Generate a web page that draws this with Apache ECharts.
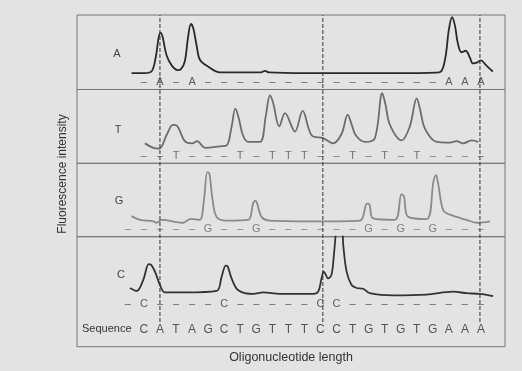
<!DOCTYPE html>
<html>
<head>
<meta charset="utf-8">
<script src="https://cdn.jsdelivr.net/npm/echarts@6/dist/echarts.min.js"></script>
<style>
  html, body { margin: 0; padding: 0; background: #e3e3e3; }
  #chart { width: 522px; height: 371px; }
</style>
</head>
<body>
<div id="chart"></div>
<script>
// read sequence (bottom row), one base per position 0..21
const sequence = ['C','A','T','A','G','C','T','G','T','T','T','C','C','T','G','T','G','T','G','A','A','A'];
const bases = ['A', 'T', 'G', 'C'];
// first dash of each label row (G and C rows start one slot earlier)
const rowStart = [0, 0, -1, -1];
// dashed reference lines, in base positions
const markerPositions = [1.0, 11.15, 20.94];

// fluorescence traces: [base position, intensity 0-100 of panel height]
const traceA = [
  [-0.77, 22], [0.06, 22], [0.5, 25], [0.75, 45], [0.92, 70], [1.04, 76], [1.16, 71],
  [1.41, 46], [1.74, 32], [2.1, 26], [2.3, 27], [2.55, 38], [2.75, 70], [2.93, 88],
  [3.08, 82], [3.30, 57], [3.49, 40], [3.99, 31], [4.74, 23], [5.98, 23], [7.3, 23],
  [7.54, 25], [7.8, 23], [10.0, 22], [13.0, 22], [16.0, 22], [18.4, 23], [18.75, 39],
  [19.0, 80], [19.2, 97], [19.38, 86], [19.56, 62], [19.79, 50], [20.05, 52],
  [20.31, 43], [20.5, 35], [20.75, 36], [21.0, 39], [21.3, 33], [21.74, 24]
];
const traceT = [
  [0.06, 27], [0.58, 21], [0.95, 20], [1.45, 40], [1.8, 52], [2.05, 51], [2.55, 30],
  [3.0, 27], [3.32, 30], [3.80, 21], [4.74, 23], [5.15, 24], [5.45, 48], [5.7, 74],
  [5.9, 62], [6.17, 38], [6.50, 29], [7.23, 29], [7.6, 65], [7.85, 92], [8.05, 82],
  [8.43, 50], [8.79, 68], [9.41, 43], [9.89, 71], [10.45, 38], [11.17, 34], [11.79, 27],
  [12.32, 40], [12.7, 66], [12.95, 52], [13.2, 38], [13.77, 29], [14.39, 34],
  [14.85, 95], [15.05, 80], [15.33, 52], [16.06, 31], [16.57, 50], [17.0, 88],
  [17.2, 74], [17.51, 47], [18.24, 29], [19.07, 28], [19.48, 30], [19.89, 27],
  [20.42, 31], [20.83, 29]
];
const traceG = [
  [-0.77, 28], [-0.25, 23], [0.58, 21], [0.79, 19], [1.10, 23], [2.45, 19], [2.87, 24],
  [3.07, 24], [3.49, 23], [3.74, 50], [3.95, 88], [4.08, 86], [4.28, 50], [4.53, 27],
  [5.15, 22], [6.50, 23], [6.8, 45], [6.95, 49], [7.33, 27], [7.85, 22], [10.97, 21],
  [13.46, 22], [13.9, 45], [14.05, 44], [14.29, 25], [15.64, 23], [16.05, 58],
  [16.2, 55], [16.47, 27], [17.61, 24], [18.05, 76], [18.2, 84], [18.35, 70],
  [18.65, 36], [19.07, 30], [20.11, 23], [20.73, 19], [21.56, 21]
];
const traceC = [
  [-0.87, 31], [-0.45, 27], [-0.04, 42], [0.3, 63], [0.45, 62], [0.69, 53], [1.0, 35],
  [1.31, 25], [2.66, 25], [4.53, 27], [4.84, 46], [5.1, 61], [5.22, 60], [5.46, 44],
  [5.88, 28], [6.81, 23], [7.43, 25], [8.47, 23], [10.55, 23], [10.86, 26], [11.07, 44],
  [11.21, 53], [11.48, 44], [11.69, 49], [11.84, 76], [11.96, 105], [12.15, 140],
  [12.38, 105], [12.42, 89], [12.63, 53], [12.94, 35], [13.25, 31], [13.66, 30],
  [14.08, 24], [15.53, 21], [17.61, 22], [19.27, 26], [20.11, 24], [20.93, 23], [21.76, 20]
];
const traces = [traceA, traceT, traceG, traceC];
const traceColors = ['#2a2a2a', '#6c6c6c', '#8a8a8a', '#333333'];
const labelColors = ['#3a3a3a', '#555555', '#666666', '#3a3a3a'];

const chart = echarts.init(document.getElementById('chart'));
const font = 'Liberation Sans, Arial, sans-serif';

const X_MIN = -4.17, X_MAX = 22.5;
const panelTops = [15, 89.5, 163.3, 236.7];
const panelHeights = [74.5, 73.8, 73.4, 110];

const grid = panelTops.map((top, i) => ({
  left: 77, width: 428, top: top, height: panelHeights[i],
  show: true, borderColor: '#777', borderWidth: 1, backgroundColor: 'transparent'
}));
grid.push({ left: 77, width: 428, top: 15, height: 307, show: false });

const xAxis = grid.map((g, i) => ({
  type: 'value', gridIndex: i, min: X_MIN, max: X_MAX, show: false
}));
const yAxis = grid.map((g, i) => ({
  type: 'value', gridIndex: i, show: false,
  min: i === 3 ? -48 : 0, max: i === 4 ? 1 : 100
}));

const series = [];
traces.forEach((data, i) => {
  series.push({
    type: 'line', xAxisIndex: i, yAxisIndex: i, data: data,
    smooth: 0.35, showSymbol: false, silent: true,
    lineStyle: { color: traceColors[i], width: 1.8 }
  });
  // row of dashes with the base letter where the sequence matches
  const rowData = [];
  for (let p = rowStart[i]; p < sequence.length; p++) {
    const hit = sequence[p] === bases[i];
    rowData.push({ value: [p, 10], name: hit ? bases[i] : '\u2013' });
  }
  series.push({
    type: 'scatter', xAxisIndex: i, yAxisIndex: i, data: rowData,
    symbolSize: 2, itemStyle: { color: 'rgba(0,0,0,0)' }, silent: true,
    label: {
      show: true, position: 'inside', formatter: '{b}',
      color: labelColors[i], fontSize: 11, fontFamily: font
    }
  });
});

// sequence row under the C panel
series.push({
  type: 'scatter', xAxisIndex: 3, yAxisIndex: 3, silent: true,
  data: sequence.map((b, p) => ({ value: [p, -24.5], name: b })),
  symbolSize: 2, itemStyle: { color: 'rgba(0,0,0,0)' },
  label: {
    show: true, position: 'inside', formatter: '{b}',
    color: '#2e2e2e', fontSize: 12, fontFamily: font
  }
});

// dashed vertical guides across all panels
markerPositions.forEach(p => {
  series.push({
    type: 'line', xAxisIndex: 4, yAxisIndex: 4, silent: true,
    data: [[p, 0], [p, 1]], showSymbol: false,
    lineStyle: { color: '#333', width: 1, type: [4, 2] }
  });
});

const textStyle = (txt, size, color) => ({
  text: txt, fill: color, font: size + 'px ' + font
});

const panelLabelPos = [[117, 54], [118, 130], [119, 201], [121, 275]];
const graphic = bases.map((b, i) => ({
  type: 'text', x: panelLabelPos[i][0], y: panelLabelPos[i][1],
  style: Object.assign(textStyle(b, 11, '#444'), { align: 'center', verticalAlign: 'middle' })
}));
graphic.push({
  type: 'text', x: 82, y: 329,
  style: Object.assign(textStyle('Sequence', 11, '#333'), { verticalAlign: 'middle' })
});
graphic.push({
  type: 'text', x: 63, y: 174, rotation: Math.PI / 2,
  style: Object.assign(textStyle('Fluorescence intensity', 12, '#333'), { align: 'center', verticalAlign: 'middle' })
});
graphic.push({
  type: 'text', x: 291, y: 358,
  style: Object.assign(textStyle('Oligonucleotide length', 12.5, '#333'), { align: 'center', verticalAlign: 'middle' })
});

chart.setOption({
  backgroundColor: '#e3e3e3',
  animation: false,
  grid: grid,
  xAxis: xAxis,
  yAxis: yAxis,
  series: series,
  graphic: graphic
});
</script>
</body>
</html>
